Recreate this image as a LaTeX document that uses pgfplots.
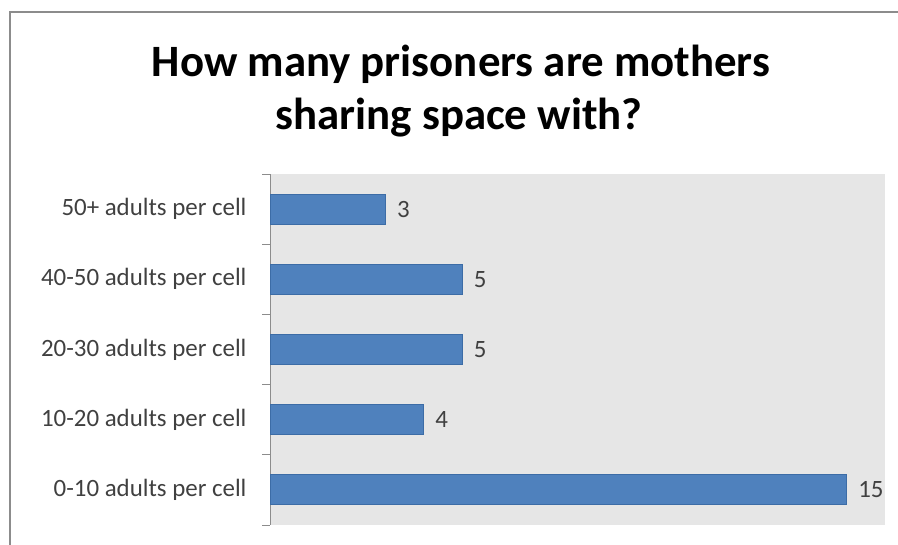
\documentclass[border=0pt]{standalone}
\usepackage{pgfplots}
\pgfplotsset{compat=1.18}
\usepackage{fontspec}
\setmainfont{Carlito}
\definecolor{barfill}{HTML}{4F81BD}
\definecolor{baredge}{HTML}{3C6CA6}
\definecolor{bgc}{HTML}{E6E6E6}
\definecolor{txt}{HTML}{404040}
\definecolor{framec}{HTML}{8C8C8C}
\begin{document}
\begin{tikzpicture}[x=1bp,y=1bp]
\path[use as bounding box] (0,0) rectangle (898,545);
\draw[framec,line width=2bp] (10,0) -- (10,533) -- (898,533);
\node[font=\bfseries\fontsize{45}{54}\selectfont,anchor=base,inner sep=0pt] at (461,468) {How many prisoners are mothers};
\node[font=\bfseries\fontsize{45}{54}\selectfont,anchor=base,inner sep=0pt] at (459,415) {sharing space with?};
\begin{axis}[
  at={(270bp,20bp)}, anchor=south west,
  width=615bp, height=351bp, scale only axis,
  xbar, bar width=30bp,
  xmin=0, xmax=16,
  ymin=-0.5, ymax=4.5,
  axis x line=none,
  axis y line*=left,
  y axis line style={draw=framec, line width=0.8bp},
  axis background/.style={fill=bgc},
  ytick={0,1,2,3,4},
  yticklabels={0-10 adults per cell,10-20 adults per cell,20-30 adults per cell,40-50 adults per cell,50+ adults per cell},
  major tick length=0pt,
  minor ytick={-0.5,0.5,1.5,2.5,3.5,4.5},
  minor tick length=8bp,
  tick align=outside,
  minor tick style={draw=framec, line width=0.8bp},
  yticklabel style={font=\fontsize{25}{30}\selectfont, text=txt, xshift=-20bp},
  /pgf/number format/assume math mode=true,
  nodes near coords,
  nodes near coords align={horizontal},
  every node near coord/.append style={font=\fontsize{25}{30}\selectfont, text=txt, anchor=west, xshift=8bp},
  clip=false,
]
\addplot[fill=barfill, draw=baredge, line width=0.8bp] coordinates {(15,0) (4,1) (5,2) (5,3) (3,4)};
\end{axis}
\end{tikzpicture}
\end{document}
